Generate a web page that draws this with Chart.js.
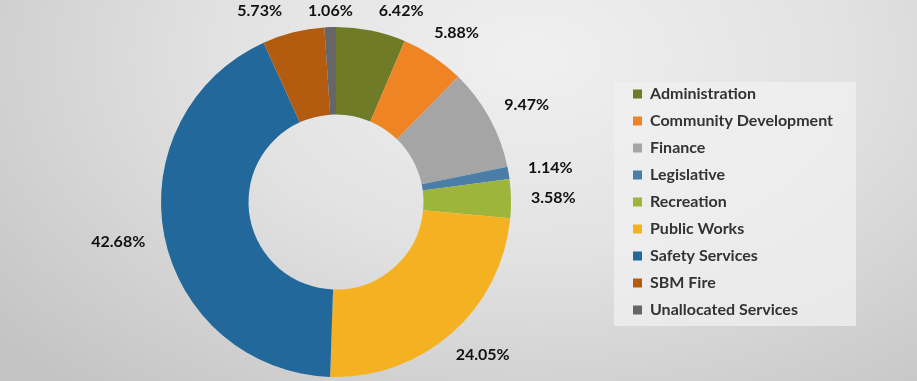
<!DOCTYPE html>
<html>
<head>
<meta charset="utf-8">
<script src="https://cdn.jsdelivr.net/npm/chart.js@4.4.0/dist/chart.umd.min.js"></script>
<style>
    html, body { margin: 0; padding: 0; }
    body {
        width: 917px;
        height: 381px;
        overflow: hidden;
        background: radial-gradient(ellipse 75% 115% at 58% 15%, #f0f0f0 0%, #e2e2e2 45%, #c4c4c4 100%);
    }
    #wrap { position: relative; width: 917px; height: 381px; }
</style>
</head>
<body>
<div id="wrap"><canvas id="budgetChart"></canvas></div>
<script>
const departments = [
    'Administration',
    'Community Development',
    'Finance',
    'Legislative',
    'Recreation',
    'Public Works',
    'Safety Services',
    'SBM Fire',
    'Unallocated Services'
];
const shares = [6.42, 5.88, 9.47, 1.14, 3.58, 24.05, 42.68, 5.73, 1.06]; // percent of budget
const sliceColours = ['#6f7b26', '#ee8424', '#a5a5a5', '#4a7ea6', '#9db53a', '#f4b222', '#22689a', '#b35c0f', '#666666'];

const fontFamily = 'Lato, "Open Sans", sans-serif';
const legendFontSize = 16;
const legendPadding = 11;
const legendBox = 9;

// measure the widest legend entry so the legend lands where the original one sits
const measureCtx = document.createElement('canvas').getContext('2d');
measureCtx.font = 'bold ' + legendFontSize + 'px ' + fontFamily;
const widestText = Math.max(...departments.map(d => measureCtx.measureText(d).width));
const legendWidth = legendPadding + legendBox + legendFontSize / 2 + widestText + 10;
const legendLeft = 622;
const ringCentreX = 336;

// percentage labels just outside the ring
const outsideLabels = {
    id: 'outsideLabels',
    afterDatasetsDraw(chart) {
        const ctx = chart.ctx;
        const meta = chart.getDatasetMeta(0);
        const h = 16;
        ctx.save();
        ctx.font = 'bold 16px ' + fontFamily;
        ctx.fillStyle = '#111111';
        ctx.textAlign = 'center';
        ctx.textBaseline = 'middle';

        const items = meta.data.map((arc, i) => {
            const p = arc.getProps(['x', 'y', 'startAngle', 'endAngle', 'outerRadius']);
            const mid = (p.startAngle + p.endAngle) / 2;
            const text = shares[i].toFixed(2) + '%';
            const w = ctx.measureText(text).width;
            const r = p.outerRadius + 20;
            let x = p.x + Math.cos(mid) * r + Math.cos(mid) * w / 2;
            let y = p.y + Math.sin(mid) * r + Math.sin(mid) * h / 2;
            y = Math.max(y, h / 2 + 3);
            return { text, w, x, y };
        });

        // push overlapping labels apart sideways
        for (let pass = 0; pass < 40; pass++) {
            items.sort((a, b) => a.x - b.x);
            for (let i = 0; i < items.length - 1; i++) {
                const a = items[i], b = items[i + 1];
                const need = (a.w + b.w) / 2 + 26;
                if (Math.abs(a.y - b.y) < h && b.x - a.x < need) {
                    const shift = (need - (b.x - a.x)) / 2;
                    a.x -= shift;
                    b.x += shift;
                }
            }
        }

        items.forEach(it => ctx.fillText(it.text, it.x, it.y));
        ctx.restore();
    }
};

// light panel behind the legend
const legendPanel = {
    id: 'legendPanel',
    beforeDraw(chart) {
        const lg = chart.legend;
        if (!lg || !lg.legendHitBoxes.length) return;
        const boxes = lg.legendHitBoxes;
        const left = 614;
        const top = boxes[0].top - 4;
        const last = boxes[boxes.length - 1];
        const bottom = last.top + last.height + 8;
        const right = 856;
        const ctx = chart.ctx;
        ctx.save();
        ctx.fillStyle = 'rgba(240, 240, 240, 0.75)';
        ctx.fillRect(left, top, right - left, bottom - top);
        ctx.restore();
    }
};

const chartCtx = document.getElementById('budgetChart').getContext('2d');
const chart = new Chart(chartCtx, {
    type: 'doughnut',
    data: {
        labels: departments,
        datasets: [{
            data: shares,
            backgroundColor: sliceColours,
            borderWidth: 0
        }]
    },
    options: {
        responsive: true,
        maintainAspectRatio: false,
        animation: false,
        cutout: '50%',
        layout: {
            padding: {
                top: 27,
                bottom: 4,
                left: 2 * ringCentreX - legendLeft,
                right: 917 - legendLeft - legendWidth
            }
        },
        plugins: {
            legend: {
                position: 'right',
                align: 'center',
                labels: {
                    boxWidth: legendBox,
                    boxHeight: legendBox,
                    padding: legendPadding,
                    color: '#333333',
                    font: { family: fontFamily, size: legendFontSize, weight: 'bold' }
                }
            },
            tooltip: { enabled: false }
        }
    },
    plugins: [outsideLabels, legendPanel]
});
</script>
</body>
</html>
